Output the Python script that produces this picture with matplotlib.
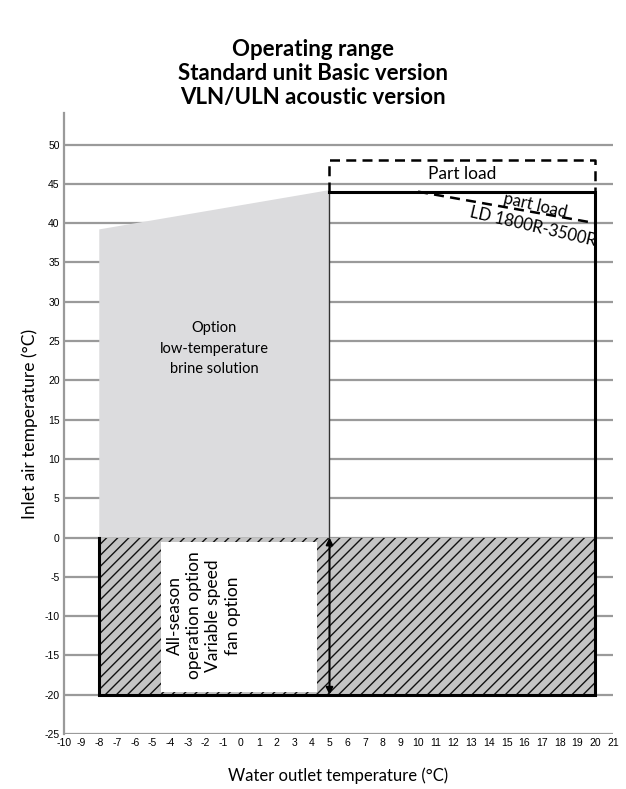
import matplotlib.pyplot as plt
from matplotlib.patches import Polygon, Rectangle

plt.rcParams["axes.unicode_minus"] = False
plt.rcParams["hatch.linewidth"] = 1.0

# operating envelope (water outlet °C, inlet air °C)
brine_x = [-8, -8, 5, 5]
brine_y = [0, 39.2, 44.2, 0]
std_x = [5, 20]
std_y = [0, 44]
winter_x = [-8, 20]
winter_y = [-20, 0]
part_load_y = [44, 48]
ld_x = [10, 20]
ld_y = [44, 40]
textbox_x = [-4.5, 4.3]
textbox_y = [-19.6, -0.6]

x_ticks = list(range(-10, 22))
y_ticks = list(range(-25, 51, 5))

grid_col = "#9a9a9a"
txt_font = ["Lato", "DejaVu Sans"]

fig = plt.figure(figsize=(6.26, 7.89), dpi=100)
ax = fig.add_axes([0.102, 0.0697, 0.877, 0.787])
ax.set_xlim(-10, 21)
ax.set_ylim(-25, 54)

for v in y_ticks:
    ax.axhline(v, color=grid_col, lw=1.6, zorder=0)

# low temperature brine option (grey)
ax.add_patch(Polygon(list(zip(brine_x, brine_y)), closed=True,
                     facecolor="#dcdcde", edgecolor="none", zorder=1))
ax.plot([brine_x[2], brine_x[3]], [brine_y[2] - 0.2, brine_y[3]], color="#333333", lw=1.0, zorder=3)

# all-season hatched band
ax.add_patch(Rectangle((winter_x[0], winter_y[0]), winter_x[1] - winter_x[0],
                       winter_y[1] - winter_y[0], facecolor="#c4c4c4",
                       edgecolor="#111111", hatch="///", lw=0, zorder=1))
ax.add_patch(Rectangle((textbox_x[0], textbox_y[0]), textbox_x[1] - textbox_x[0],
                       textbox_y[1] - textbox_y[0], facecolor="white",
                       edgecolor="none", zorder=2))

# standard unit envelope outline
ax.plot([winter_x[0], winter_x[0], std_x[1], std_x[1], std_x[0]],
        [winter_y[1], winter_y[0], winter_y[0], std_y[1], std_y[1]],
        color="black", lw=2.2, zorder=4, solid_joinstyle="miter")

# part load dashed box
ax.plot([std_x[0], std_x[0], std_x[1], std_x[1]],
        [part_load_y[0], part_load_y[1], part_load_y[1], part_load_y[0]],
        color="black", lw=1.8, ls=(0, (4, 2.5)), zorder=4)
ax.plot(ld_x, ld_y, color="black", lw=1.8, ls=(0, (4, 2.5)), zorder=4)

ax.annotate("", xy=(5, -20), xytext=(5, 0),
            arrowprops=dict(arrowstyle="<|-|>", color="black", lw=1.5,
                            mutation_scale=10, shrinkA=0, shrinkB=0), zorder=5)

ax.text(12.5, 46.3, "Part load", ha="center", va="center", fontsize=12.5, family=txt_font, zorder=5)
ax.text(16.6, 42.3, "part load", ha="center", va="center", fontsize=12,
        rotation=-13, family=txt_font, zorder=5)
ax.text(16.5, 39.6, "LD 1800R-3500R", ha="center", va="center", fontsize=12,
        rotation=-13, family=txt_font, zorder=5)
ax.text(-1.5, 24.0, "Option\nlow-temperature\nbrine solution", ha="center", va="center",
        fontsize=10.5, family=txt_font, linespacing=1.6, zorder=5)
ax.text(-2.1, -9.9, "All-season\noperation option\nVariable speed\nfan option",
        ha="center", va="center", rotation=90, fontsize=12.5, family=txt_font,
        linespacing=1.25, zorder=5)

ax.set_xticks(x_ticks)
ax.set_yticks(y_ticks)
ax.tick_params(length=0, labelsize=7.5, pad=3)
for lbl in ax.get_xticklabels() + ax.get_yticklabels():
    lbl.set_family(["Liberation Sans Narrow", "Liberation Sans", "DejaVu Sans"])
for s in ["top", "right", "bottom"]:
    ax.spines[s].set_visible(False)
ax.spines["left"].set_color(grid_col)
ax.spines["left"].set_linewidth(1.6)

ax.set_xlabel("Water outlet temperature (°C)", fontsize=12, family=txt_font, labelpad=14)
ax.set_ylabel("Inlet air temperature (°C)", fontsize=12.5, family=txt_font, labelpad=5)

fig.text(0.5, 0.907, "Operating range\nStandard unit Basic version\nVLN/ULN acoustic version",
         ha="center", va="center", fontsize=16, fontweight="bold", family=txt_font,
         linespacing=1.17)

fig.savefig("out.png", dpi=100)
